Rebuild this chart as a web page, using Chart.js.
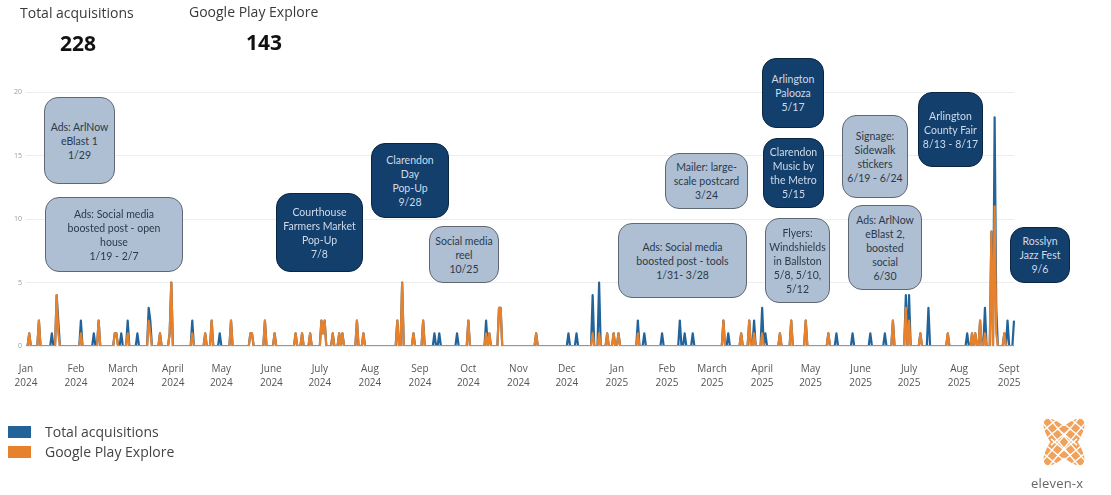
<!DOCTYPE html>
<html>
<head>
<meta charset="utf-8">
<script src="https://cdn.jsdelivr.net/npm/chart.js@4"></script>
<style>
  html, body { margin: 0; padding: 0; background: #fff; }
  body { width: 1111px; height: 495px; position: relative; overflow: hidden; font-family: "Open Sans", sans-serif; }
  #chart { position: absolute; left: 0; top: 0; }
  .kpi-title { position: absolute; font-size: 14px; color: #3a3a3a; }
  .kpi-value { position: absolute; font-size: 21px; font-weight: 700; color: #111; }
  .note { position: absolute; box-sizing: border-box; border-radius: 14px; display: flex; align-items: center; justify-content: center; text-align: center; font-family: Lato, sans-serif; font-size: 10.5px; line-height: 14px; }
  .light { background: #aebfd3; border: 1.5px solid #5f6872; color: #2b3a4b; }
  .dark { background: #123f6c; border: 1.5px solid #0b2642; color: #cfdaea; }
  .legend { position: absolute; left: 8px; font-size: 14px; color: #444; display: flex; align-items: center; }
  .legend span { display: inline-block; width: 23px; height: 12px; margin-right: 14px; }
  .brand { position: absolute; left: 1031px; top: 474px; font-size: 13px; color: #666; letter-spacing: 0.2px; }
</style>
</head>
<body>
<canvas id="chart" width="1111" height="495"></canvas>

<div class="kpi-title" style="left:20px; top:3px;">Total acquisitions</div>
<div class="kpi-value" style="left:60px; top:29px;">228</div>
<div class="kpi-title" style="left:189px; top:2px;">Google Play Explore</div>
<div class="kpi-value" style="left:246px; top:28px;">143</div>

<div class="legend" style="top:422px;"><span style="background:#22649a"></span>Total acquisitions</div>
<div class="legend" style="top:442px;"><span style="background:#e8812c"></span>Google Play Explore</div>

<svg style="position:absolute; left:1036px; top:412px;" width="56" height="60" viewBox="0 0 56 60">
  <g transform="rotate(50 28 30)">
    <ellipse cx="28" cy="30" rx="29" ry="11" fill="#f0a25c"/>
  </g>
  <g transform="rotate(-50 28 30)">
    <ellipse cx="28" cy="30" rx="29" ry="11" fill="#f0a25c"/>
  </g>
  <g transform="rotate(50 28 30)" stroke="#fff" stroke-width="1.4">
    <line x1="-2" y1="26" x2="58" y2="26"/><line x1="-2" y1="34" x2="58" y2="34"/>
    <line x1="6" y1="18" x2="6" y2="42"/><line x1="14" y1="18" x2="14" y2="42"/><line x1="22" y1="18" x2="22" y2="42"/>
    <line x1="34" y1="18" x2="34" y2="42"/><line x1="42" y1="18" x2="42" y2="42"/><line x1="50" y1="18" x2="50" y2="42"/>
  </g>
  <g transform="rotate(-50 28 30)" stroke="#fff" stroke-width="1.4">
    <line x1="-2" y1="26" x2="58" y2="26"/><line x1="-2" y1="34" x2="58" y2="34"/>
    <line x1="6" y1="18" x2="6" y2="42"/><line x1="14" y1="18" x2="14" y2="42"/><line x1="22" y1="18" x2="22" y2="42"/>
    <line x1="34" y1="18" x2="34" y2="42"/><line x1="42" y1="18" x2="42" y2="42"/><line x1="50" y1="18" x2="50" y2="42"/>
  </g>
</svg>
<div class="brand">eleven-x</div>

<script>
// x axis labels, one per month starting Jan 2024
const tickLabels = ["Jan 2024", "Feb 2024", "March 2024", "April 2024", "May 2024", "June 2024", "July 2024",
  "Aug 2024", "Sep 2024", "Oct 2024", "Nov 2024", "Dec 2024", "Jan 2025", "Feb 2025", "March 2025",
  "April 2025", "May 2025", "June 2025", "July 2025", "Aug 2025", "Sept 2025"];

const firstDay = "2024-01-01";
const lastDay = "2025-09-04";

// days with activity (every other day is 0)
const activeDays = [
  "2024-01-03", "2024-01-09", "2024-01-17", "2024-01-20", "2024-01-21", "2024-02-04", "2024-02-12", "2024-02-15",
  "2024-02-25", "2024-02-26", "2024-02-29", "2024-03-04", "2024-03-10", "2024-03-17", "2024-03-18", "2024-03-24",
  "2024-03-30", "2024-03-31", "2024-04-13", "2024-04-21", "2024-04-25", "2024-04-30", "2024-05-07", "2024-05-19",
  "2024-05-20", "2024-05-28", "2024-06-03", "2024-06-16", "2024-06-20", "2024-06-25", "2024-07-02", "2024-07-03",
  "2024-07-04", "2024-07-09", "2024-07-13", "2024-07-15", "2024-07-24", "2024-07-28", "2024-08-18", "2024-08-21",
  "2024-08-28", "2024-09-03", "2024-09-10", "2024-09-13", "2024-09-24", "2024-10-01", "2024-10-12", "2024-10-14",
  "2024-10-20", "2024-10-21", "2024-11-12", "2024-12-02", "2024-12-07", "2024-12-17", "2024-12-21", "2024-12-26",
  "2024-12-30", "2025-01-02", "2025-01-14", "2025-01-18", "2025-01-29", "2025-02-09", "2025-02-12", "2025-02-17",
  "2025-03-08", "2025-03-11", "2025-03-19", "2025-03-24", "2025-03-27", "2025-04-01", "2025-04-03", "2025-04-12",
  "2025-04-19", "2025-04-28", "2025-05-12", "2025-05-17", "2025-05-27", "2025-06-07", "2025-06-16", "2025-06-21",
  "2025-06-29", "2025-07-01", "2025-07-08", "2025-07-13", "2025-07-25", "2025-08-06", "2025-08-09", "2025-08-11",
  "2025-08-14", "2025-08-17", "2025-08-21", "2025-08-23", "2025-08-24", "2025-08-29", "2025-08-31", "2025-09-04"
];

const totalAcquisitions = [
  1, 2, 1, 4, 2, 2, 1, 2,
  1, 1, 1, 2, 1, 3, 2, 1,
  1, 5, 2, 1, 2, 1, 2, 1,
  1, 2, 1, 1, 1, 1, 2, 1,
  2, 1, 1, 1, 2, 1, 2, 5,
  1, 2, 1, 1, 1, 2, 2, 1,
  3, 3, 1, 1, 1, 4, 5, 1,
  1, 1, 2, 1, 1, 2, 1, 1,
  2, 1, 1, 2, 2, 3, 1, 1,
  2, 2, 1, 1, 1, 1, 1, 2,
  4, 4, 1, 3, 1, 1, 1, 1,
  2, 3, 9, 18, 3, 1, 2, 2
];

const googlePlayExplore = [
  1, 2, 0, 4, 1, 1, 0, 2,
  1, 1, 0, 1, 0, 2, 1, 1,
  1, 5, 1, 1, 2, 0, 2, 1,
  1, 2, 1, 1, 1, 1, 2, 1,
  2, 1, 1, 1, 2, 1, 2, 5,
  1, 2, 0, 0, 0, 2, 1, 1,
  3, 3, 1, 0, 0, 1, 1, 1,
  1, 1, 1, 0, 0, 0, 0, 0,
  2, 0, 1, 2, 1, 1, 0, 1,
  2, 2, 1, 0, 0, 0, 0, 2,
  3, 2, 1, 0, 1, 0, 1, 1,
  2, 1, 9, 11, 1, 1, 0, 0
];

// daily labels
const days = [];
for (let t = Date.parse(firstDay); t <= Date.parse(lastDay); t += 86400000) {
  days.push(new Date(t).toISOString().slice(0, 10));
}
const dailySeries = (values) => days.map((d) => {
  const i = activeDays.indexOf(d);
  return i === -1 ? 0 : values[i];
});

const config = {
  type: "line",
  data: {
    labels: days,
    datasets: [
      {
        label: "Total acquisitions",
        data: dailySeries(totalAcquisitions),
        borderColor: "#22649a",
        borderWidth: 2.2,
        borderJoinStyle: "round",
        pointRadius: 0,
        tension: 0,
        order: 1, // drawn underneath
      },
      {
        label: "Google Play Explore",
        data: dailySeries(googlePlayExplore),
        borderColor: "#e8812c",
        borderWidth: 2.2,
        borderJoinStyle: "round",
        pointRadius: 0,
        tension: 0,
        order: 0,
      },
    ],
  },
  options: {
    responsive: false,
    animation: false,
    devicePixelRatio: 1,
    layout: { padding: { left: 0, right: 97, top: 92, bottom: 109 } },
    plugins: { legend: { display: false }, tooltip: { enabled: false } },
    scales: {
      x: {
        grid: { display: false },
        border: { display: false },
        ticks: {
          autoSkip: false,
          maxRotation: 0,
          minRotation: 0,
          padding: 8,
          color: "#555",
          font: { family: "Open Sans", size: 10, lineHeight: 1.4 },
          callback: function (value) {
            const d = this.getLabelForValue(value);
            if (d.slice(8) !== "01") return null;
            const m = (Number(d.slice(0, 4)) - 2024) * 12 + Number(d.slice(5, 7)) - 1;
            return tickLabels[m] ? tickLabels[m].split(" ") : null;
          },
        },
        afterFit: (scale) => { scale.height = 40; },
      },
      y: {
        min: 0,
        max: 20,
        ticks: { stepSize: 5, color: "#9a9a9a", padding: 4, font: { family: "Open Sans", size: 7 } },
        grid: { color: "#ededed", drawTicks: false },
        border: { display: false },
        afterFit: (scale) => { scale.width = 26; },
      },
    },
  },
};
new Chart(document.getElementById("chart"), config);

// annotation callouts
const notes = [
  ["light", 44, 97, 71, 87, "Ads: ArlNow<br>eBlast 1<br>1/29"],
  ["light", 45, 197, 138, 75, "Ads: Social media<br>boosted post - open<br>house<br>1/19 - 2/7"],
  ["dark", 276, 193, 87, 79, "Courthouse<br>Farmers Market<br>Pop-Up<br>7/8"],
  ["dark", 371, 143, 78, 75, "Clarendon<br>Day<br>Pop-Up<br>9/28"],
  ["light", 429, 226, 70, 57, "Social media<br>reel<br>10/25"],
  ["light", 665, 153, 83, 56, "Mailer: large-<br>scale postcard<br>3/24"],
  ["light", 618, 223, 129, 75, "Ads: Social media<br>boosted post - tools<br>1/31- 3/28"],
  ["dark", 762, 58, 62, 70, "Arlington<br>Palooza<br>5/17"],
  ["dark", 763, 138, 61, 70, "Clarendon<br>Music by<br>the Metro<br>5/15"],
  ["light", 765, 218, 65, 85, "Flyers:<br>Windshields<br>in Ballston<br>5/8, 5/10,<br>5/12"],
  ["light", 842, 115, 66, 83, "Signage:<br>Sidewalk<br>stickers<br>6/19 - 6/24"],
  ["light", 848, 205, 74, 85, "Ads: ArlNow<br>eBlast 2,<br>boosted<br>social<br>6/30"],
  ["dark", 918, 92, 65, 75, "Arlington<br>County Fair<br>8/13 - 8/17"],
  ["dark", 1010, 227, 60, 56, "Rosslyn<br>Jazz Fest<br>9/6"],
];
notes.forEach(([kind, x, y, w, h, html]) => {
  const el = document.createElement("div");
  el.className = "note " + kind;
  el.style.left = x + "px";
  el.style.top = y + "px";
  el.style.width = w + "px";
  el.style.height = h + "px";
  el.innerHTML = "<div>" + html + "</div>";
  document.body.appendChild(el);
});
</script>
</body>
</html>
